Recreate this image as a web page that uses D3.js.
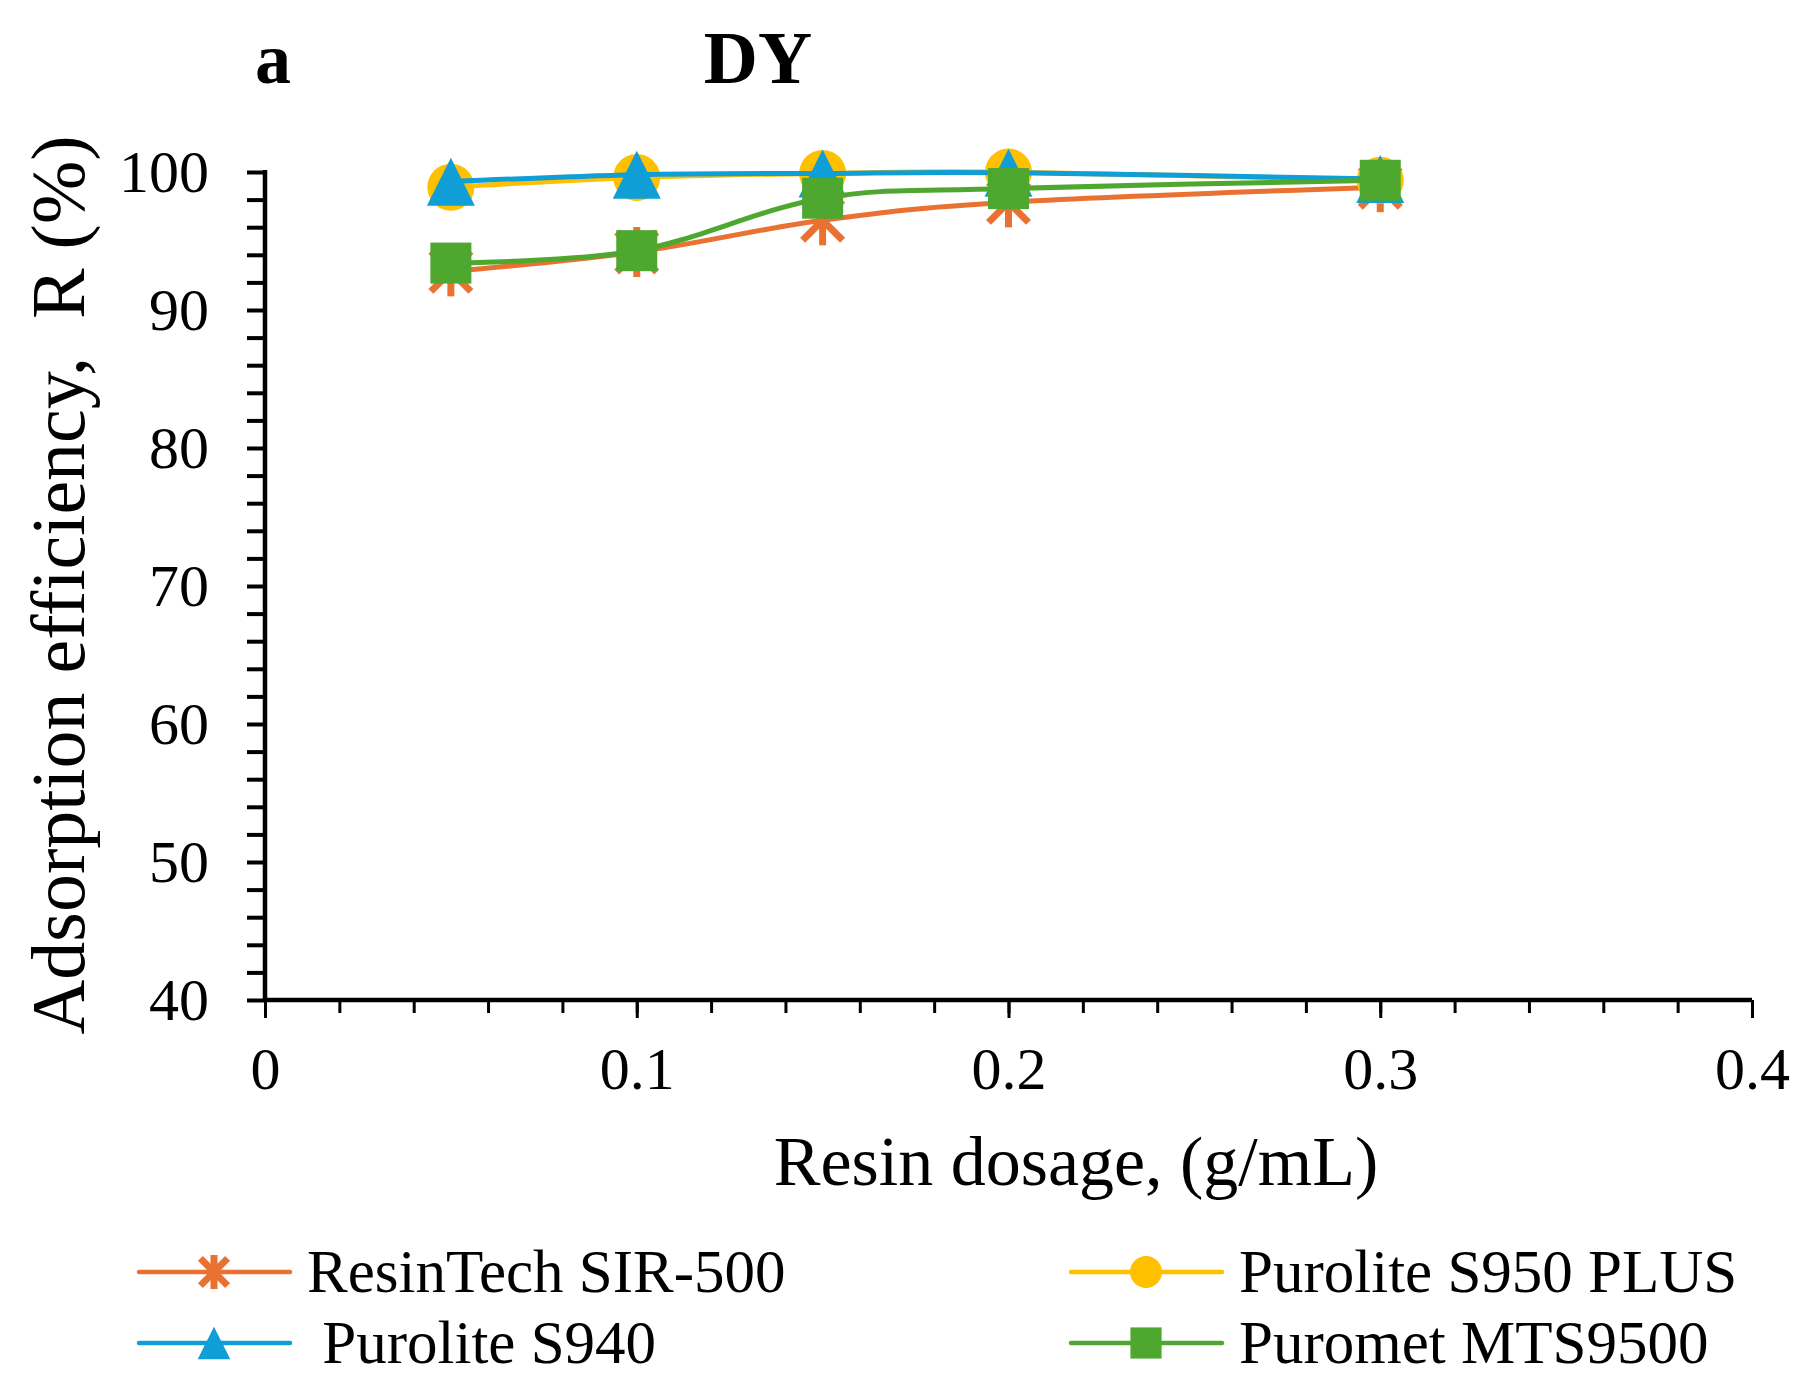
<!DOCTYPE html>
<html lang="en">
<head>
  <meta charset="UTF-8">
  <title>DY - Adsorption efficiency vs resin dosage</title>
  <script src="https://d3js.org/d3.v7.min.js"></script>
  <style>
    body { margin: 0; background: white; }
    svg text { font-family: "Liberation Serif", "Times New Roman", serif; fill: black; }
  </style>
</head>
<body>
  <svg id="chart" width="1805" height="1394"></svg>

  <script>
    const dosage = [0.05, 0.1, 0.15, 0.2, 0.3];
    const seriesNames = ["ResinTech SIR-500", "Purolite S950 PLUS", "Purolite S940", "Puromet MTS9500"];
    const resinTech = [92.8, 94.2, 96.5, 97.8, 98.9];
    const purolite950 = [98.9, 99.6, 99.9, 100.0, 99.4];
    const purolite940 = [99.3, 99.8, 99.9, 99.95, 99.5];
    const puromet = [93.4, 94.3, 98.1, 98.8, 99.4];
    const xTicks = [0, 0.1, 0.2, 0.3, 0.4];
    const yTicks = [40, 50, 60, 70, 80, 90, 100];

    const series = [
      { name: seriesNames[0], values: resinTech, color: "#E97132", marker: "star" },
      { name: seriesNames[1], values: purolite950, color: "#FFC000", marker: "circle" },
      { name: seriesNames[2], values: purolite940, color: "#0F9ED5", marker: "triangle" },
      { name: seriesNames[3], values: puromet, color: "#4EA72E", marker: "square" }
    ];

    const svg = d3.select("#chart");
    const x = d3.scaleLinear().domain([0, 0.4]).range([265, 1752]);
    const y = d3.scaleLinear().domain([40, 100]).range([1000, 172]);

    // minor x ticks (every 0.02)
    svg.append("g")
      .attr("transform", "translate(0," + y(40) + ")")
      .call(d3.axisBottom(x).tickValues(d3.range(0, 0.4001, 0.02)).tickSize(13).tickFormat(""))
      .call(g => g.select(".domain").remove())
      .call(g => g.selectAll("line").attr("stroke", "black").attr("stroke-width", 3));

    // major x ticks with labels
    svg.append("g")
      .attr("transform", "translate(0," + y(40) + ")")
      .call(d3.axisBottom(x).tickValues(xTicks).tickSize(18).tickPadding(28).tickFormat(d => d === 0 ? "0" : d3.format(".1f")(d)))
      .call(g => g.select(".domain").remove())
      .call(g => g.selectAll("line").attr("stroke", "black").attr("stroke-width", 3))
      .call(g => g.selectAll("text").style("font-size", "60px").attr("font-family", null));

    // y ticks every 2, labels every 10
    svg.append("g")
      .attr("transform", "translate(" + x(0) + ",0)")
      .call(d3.axisLeft(y).tickValues(d3.range(40, 100.1, 2)).tickSize(18).tickPadding(38)
        .tickFormat(d => yTicks.includes(d) ? d : ""))
      .call(g => g.select(".domain").remove())
      .call(g => g.selectAll("line").attr("stroke", "black").attr("stroke-width", 4))
      .call(g => g.selectAll("text").style("font-size", "60px").attr("font-family", null));

    // axis lines
    svg.append("line")
      .attr("x1", x(0)).attr("x2", x(0.4)).attr("y1", y(40)).attr("y2", y(40))
      .attr("stroke", "black").attr("stroke-width", 4.5);
    svg.append("line")
      .attr("x1", x(0)).attr("x2", x(0)).attr("y1", y(40) + 2).attr("y2", y(100) - 2)
      .attr("stroke", "black").attr("stroke-width", 4.5);

    function drawMarker(g, type, cx, cy, color, s) {
      if (type === "circle") {
        g.append("circle").attr("cx", cx).attr("cy", cy).attr("r", 23.5 * s).attr("fill", color);
      } else if (type === "triangle") {
        const h = 24 * s;
        g.append("path")
          .attr("d", "M" + cx + "," + (cy - h) + "L" + (cx + h) + "," + (cy + h) + "L" + (cx - h) + "," + (cy + h) + "Z")
          .attr("fill", color);
      } else if (type === "square") {
        const h = 20.5 * Math.min(1, s + 0.08);
        g.append("rect").attr("x", cx - h).attr("y", cy - h).attr("width", 2 * h).attr("height", 2 * h).attr("fill", color);
      } else {
        const r = 25 * s, d = 20 * s;
        const sg = g.append("g").attr("stroke", color).attr("stroke-width", 7).attr("stroke-linecap", "butt");
        sg.append("line").attr("x1", cx - d).attr("y1", cy - d).attr("x2", cx + d).attr("y2", cy + d);
        sg.append("line").attr("x1", cx + d).attr("y1", cy - d).attr("x2", cx - d).attr("y2", cy + d);
        sg.append("line").attr("x1", cx).attr("y1", cy - r).attr("x2", cx).attr("y2", cy + r);
      }
    }

    const line = d3.line()
      .x((d, i) => x(dosage[i]))
      .y(d => y(d))
      .curve(d3.curveCardinal.tension(0));

    series.forEach(s => {
      const g = svg.append("g");
      g.append("path")
        .attr("d", line(s.values))
        .attr("fill", "none")
        .attr("stroke", s.color)
        .attr("stroke-width", 5)
        .attr("stroke-linejoin", "round");
      s.values.forEach((v, i) => drawMarker(g, s.marker, x(dosage[i]), y(v), s.color, 1));
    });

    // titles
    svg.append("text").attr("x", 255).attr("y", 83)
      .style("font-size", "72px").style("font-weight", "bold").text("a");
    svg.append("text").attr("x", 758).attr("y", 83).attr("text-anchor", "middle")
      .style("font-size", "75px").style("font-weight", "bold").text("DY");

    svg.append("text").attr("x", 1076).attr("y", 1185).attr("text-anchor", "middle")
      .style("font-size", "70px").text("Resin dosage, (g/mL)");

    svg.append("text")
      .attr("transform", "translate(84,585) rotate(-90)")
      .attr("text-anchor", "middle")
      .style("font-size", "76px")
      .style("white-space", "pre")
      .text("Adsorption efficiency,  R (%)");

    // legend
    const legendPos = [
      { lx: 137, ly: 1272, tx: 307 },
      { lx: 1069, ly: 1272, tx: 1239 },
      { lx: 137, ly: 1343, tx: 307 },
      { lx: 1069, ly: 1343, tx: 1239 }
    ];
    const legendLabels = [seriesNames[0], seriesNames[1], " " + seriesNames[2], seriesNames[3]];
    series.forEach((s, i) => {
      const p = legendPos[i];
      const g = svg.append("g");
      g.append("line").attr("x1", p.lx + 2).attr("x2", p.lx + 153).attr("y1", p.ly).attr("y2", p.ly)
        .attr("stroke", s.color).attr("stroke-width", 4.5).attr("stroke-linecap", "round");
      drawMarker(g, s.marker, p.lx + 77, p.ly, s.color, 0.68);
      g.append("text").attr("x", p.tx).attr("y", p.ly + 20)
        .style("font-size", "61px").style("white-space", "pre").text(legendLabels[i]);
    });
  </script>
</body>
</html>
